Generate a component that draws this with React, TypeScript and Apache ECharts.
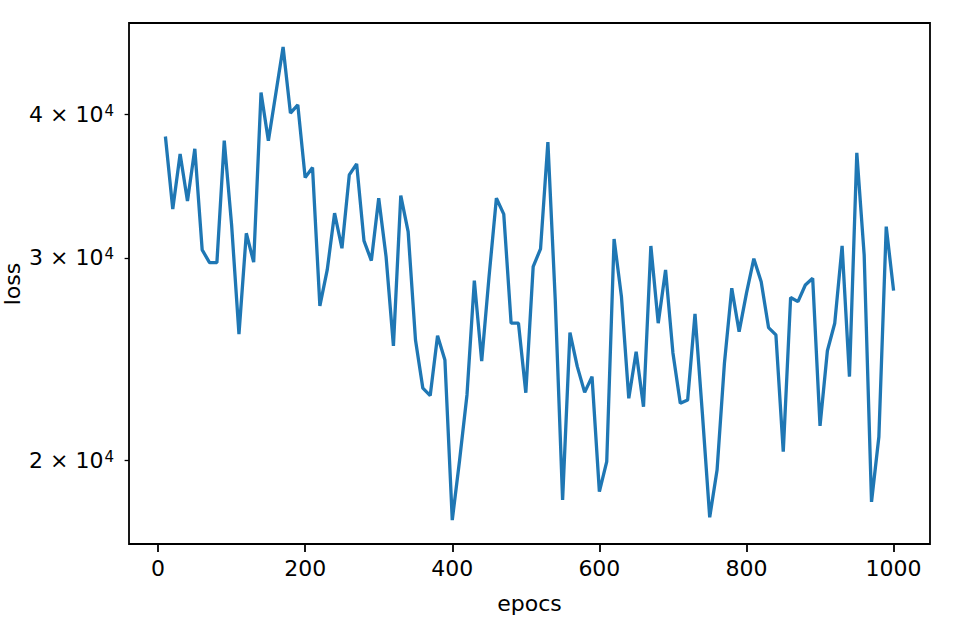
import React, { useEffect, useRef } from "react";
import * as echarts from "echarts";

const epochs: number[] = Array.from({ length: 100 }, (_, i) => (i + 1) * 10);

const lossValues: number[] = [
  38250, 33090, 36930, 33620, 37320, 30490, 29720, 29720, 37940, 32050,
  25760, 31520, 29750, 41760, 37920, 41650, 45750, 40080, 40750, 35230,
  35950, 27260, 29290, 32810, 30590, 35420, 36210, 31040, 29840, 33810,
  30080, 25160, 33990, 31620, 25460, 23120, 22780, 25680, 24460, 17760,
  20030, 22810, 28670, 24410, 28900, 33810, 32750, 26330, 26330, 22910,
  29490, 30550, 37820, 27590, 18490, 25840, 24140, 22930, 23660, 18800,
  19960, 31160, 27770, 22660, 24870, 22280, 30730, 26330, 29290, 24810,
  22430, 22580, 26830, 22000, 17860, 19630, 24300, 28240, 25890, 27960,
  29960, 28610, 26100, 25720, 20360, 27720, 27490, 28420, 28810, 21440,
  24920, 26330, 30730, 23660, 37020, 30180, 18420, 20980, 31940, 28100,
];

const xTicks: number[] = [0, 200, 400, 600, 800, 1000];
const yTicks: number[] = [20000, 30000, 40000];

const FONT = "DejaVu Sans";
const FS = 22;

export default function App() {
  const ref = useRef<HTMLDivElement>(null);

  useEffect(() => {
    if (!ref.current) return;
    const chart = echarts.init(ref.current, null, { renderer: "svg" });
    const data = epochs.map((e, i) => [e, lossValues[i]]);
    chart.setOption({
      animation: false,
      backgroundColor: "#ffffff",
      grid: {
        left: 129,
        top: 23,
        width: 801,
        height: 521,
        containLabel: false,
        outerBoundsMode: "none",
        show: true,
        borderColor: "#000000",
        borderWidth: 1.8,
        backgroundColor: "transparent",
      },
      graphic: [
        {
          type: "text",
          x: 12,
          y: 284,
          rotation: Math.PI / 2,
          style: {
            text: "loss",
            fontFamily: FONT,
            fontSize: FS,
            fill: "#000",
            align: "center",
            verticalAlign: "middle",
          },
        },
      ],
      xAxis: {
        type: "value",
        min: -39.5,
        max: 1049.5,
        name: "epocs",
        nameLocation: "middle",
        nameGap: 48,
        nameTextStyle: { fontFamily: FONT, fontSize: FS, color: "#000" },
        axisLine: { show: false, onZero: false },
        splitLine: { show: false },
        axisTick: {
          show: true,
          length: 8,
          lineStyle: { color: "#000", width: 1.8 },
          customValues: xTicks,
        },
        axisLabel: {
          customValues: xTicks,
          margin: 13,
          fontFamily: FONT,
          fontSize: FS,
          color: "#000",
          formatter: (v: number) => String(v),
        },
      },
      yAxis: {
        type: "log",
        logBase: 10,
        min: 16930,
        max: 48000,
        axisLine: { show: false, onZero: false },
        splitLine: { show: false },
        minorTick: { show: false },
        axisTick: {
          show: true,
          length: 4.4,
          lineStyle: { color: "#000", width: 1.3 },
          customValues: yTicks,
        },
        axisLabel: {
          customValues: yTicks,
          margin: 15,
          fontFamily: FONT,
          color: "#000",
          formatter: (v: number) => `{a|${Math.round(v / 10000)} × 10}{s|4}`,
          rich: {
            a: { fontFamily: FONT, fontSize: FS, color: "#000", lineHeight: 22, padding: [5, 0, 0, 0], verticalAlign: "bottom" },
            s: { fontFamily: FONT, fontSize: 15, color: "#000", lineHeight: 15, verticalAlign: "top", padding: [0, 0, 0, 1] },
          },
        },
      },
      series: [
        {
          type: "line",
          data,
          showSymbol: false,
          symbol: "none",
          lineStyle: { color: "#1f77b4", width: 3.3 },
          itemStyle: { color: "#1f77b4" },
        },
      ],
    });
    return () => chart.dispose();
  }, []);

  return (
    <div
      ref={ref}
      style={{ position: "absolute", left: 0, top: 0, width: 969, height: 624, background: "#fff" }}
    />
  );
}
